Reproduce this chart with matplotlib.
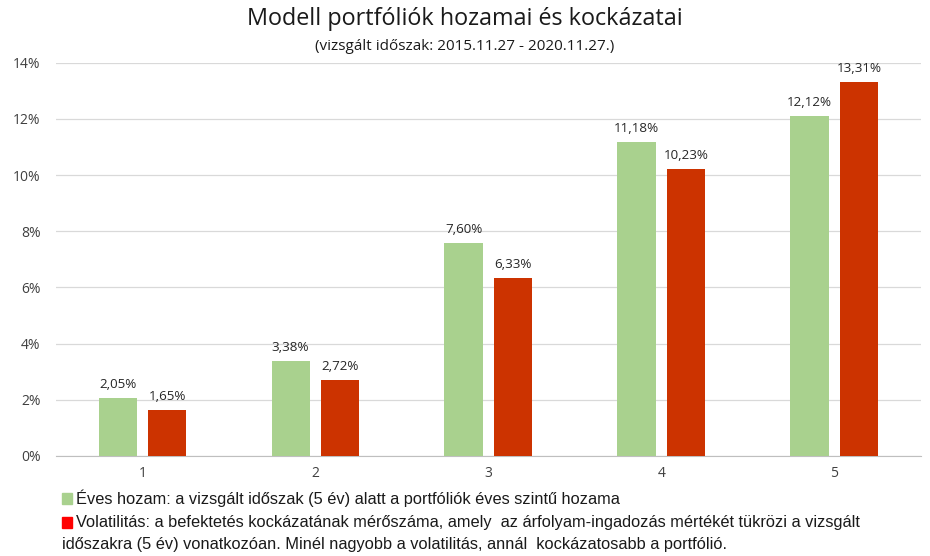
import matplotlib.pyplot as plt
from matplotlib.patches import Rectangle
from matplotlib.ticker import FuncFormatter

plt.rcParams['font.family'] = ['Open Sans', 'DejaVu Sans']

# adatok
portfoliok = ['1', '2', '3', '4', '5']
eves_hozam = [2.05, 3.38, 7.60, 11.18, 12.12]
volatilitas = [1.65, 2.72, 6.33, 10.23, 13.31]
y_ticks = [0, 2, 4, 6, 8, 10, 12, 14]

zold = '#a9d18e'
piros = '#cc3300'

fig = plt.figure(figsize=(9.3, 5.56), dpi=100)
ax = fig.add_axes([0.060, 0.180, 0.930, 0.707])

x = list(range(len(portfoliok)))
w = 0.22
off = 0.143
b1 = ax.bar([i - off for i in x], eves_hozam, width=w, color=zold, zorder=3)
b2 = ax.bar([i + off for i in x], volatilitas, width=w, color=piros, zorder=3)

def fmt(v):
    return f'{v:.2f}'.replace('.', ',') + '%'

for bars, vals in ((b1, eves_hozam), (b2, volatilitas)):
    for r, v in zip(bars, vals):
        ax.annotate(fmt(v), (r.get_x() + r.get_width() / 2, v),
                    xytext=(0, 5), textcoords='offset points',
                    ha='center', va='bottom', fontsize=9.6, color='#262626')

ax.set_xlim(-0.5, 4.5)
ax.set_ylim(0, 14)
ax.set_yticks(y_ticks)
ax.yaxis.set_major_formatter(FuncFormatter(lambda v, p: f'{v:.0f}%'))
ax.set_xticks(x)
ax.set_xticklabels(portfoliok)
ax.tick_params(length=0, labelsize=10, colors='#404040')
ax.tick_params(axis='y', pad=11)
ax.tick_params(axis='x', pad=7)
ax.grid(axis='y', color='#d9d9d9', linewidth=0.9, zorder=0)
for s in ('top', 'right', 'left'):
    ax.spines[s].set_visible(False)
ax.spines['bottom'].set_color('#bfbfbf')

fig.text(0.5, 0.966, 'Modell portfóliók hozamai és kockázatai',
         ha='center', va='center', fontsize=16.8, color='#1a1a1a')
fig.text(0.5, 0.916, '(vizsgált időszak: 2015.11.27 - 2020.11.27.)',
         ha='center', va='center', fontsize=11, color='#1a1a1a')

# jelmagyarázat
H = 556
fig.patches.append(Rectangle((62 / 930, 1 - 504 / H), 10 / 930, 11 / H,
                             transform=fig.transFigure, color=zold))
fig.patches.append(Rectangle((62 / 930, 1 - 528 / H), 10 / 930, 11 / H,
                             transform=fig.transFigure, color='#ff0000'))
lkw = dict(ha='left', va='center', fontsize=11.8, color='#1a1a1a',
           family=['Liberation Sans Narrow', 'Liberation Sans', 'DejaVu Sans'])
fig.text(76 / 930, 1 - 498 / H,
         'Éves hozam: a vizsgált időszak (5 év) alatt a portfóliók éves szintű hozama', **lkw)
fig.text(76 / 930, 1 - 522 / H,
         'Volatilitás: a befektetés kockázatának mérőszáma, amely  az árfolyam-ingadozás mértékét tükrözi a vizsgált', **lkw)
fig.text(62 / 930, 1 - 545 / H,
         'időszakra (5 év) vonatkozóan. Minél nagyobb a volatilitás, annál  kockázatosabb a portfólió.', **lkw)

fig.savefig('out.png', dpi=100)
